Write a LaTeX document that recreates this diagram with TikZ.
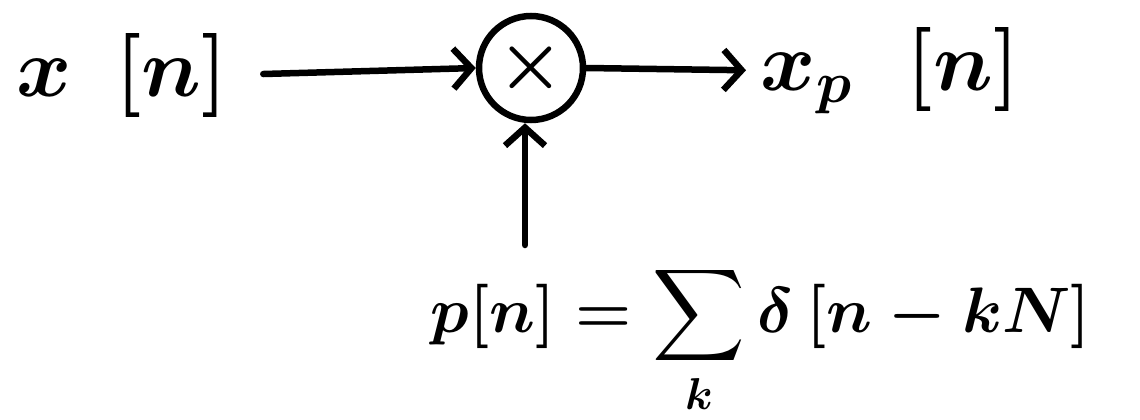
\documentclass[tikz,border=0pt]{standalone}
\usepackage{amsmath}
\usepackage{amsbsy}
\usetikzlibrary{arrows.meta}
\begin{document}
\begin{tikzpicture}[x=1pt,y=-1pt,
  big/.style={inner sep=0pt, font=\huge\boldmath, scale=4.05},
  form/.style={inner sep=0pt, font=\huge\boldmath, scale=3.1},
  conn/.style={line width=6.5pt, line cap=round, -{Straight Barb[length=18pt,width=40pt,line width=6.5pt]}},
  ]
\useasboundingbox (0,0) rectangle (1140,420);
\node[big, anchor=base west] (x) at (16,96) {$x\;\,[n]$};
\node[draw, circle, line width=6.5pt, minimum size=104pt, inner sep=0pt,
      font=\huge\boldmath] (m) at (531,68) {\scalebox{3.6}{$\times$}};
\node[big, anchor=base west] (xp) at (760,90) {$x_p\;\;[n]$};
\node[form, anchor=base west] (p) at (430,332) {$\displaystyle p[n]=\sum_{k}\delta\,[n-kN]$};
\coordinate (s) at (525,245);
\draw[conn, shorten <=35pt] (x.east) -- (m.west);
\draw[conn, shorten >=14pt] (m.east) -- (xp.west);
\draw[conn] (s) -- (s |- m.south);
\end{tikzpicture}
\end{document}
